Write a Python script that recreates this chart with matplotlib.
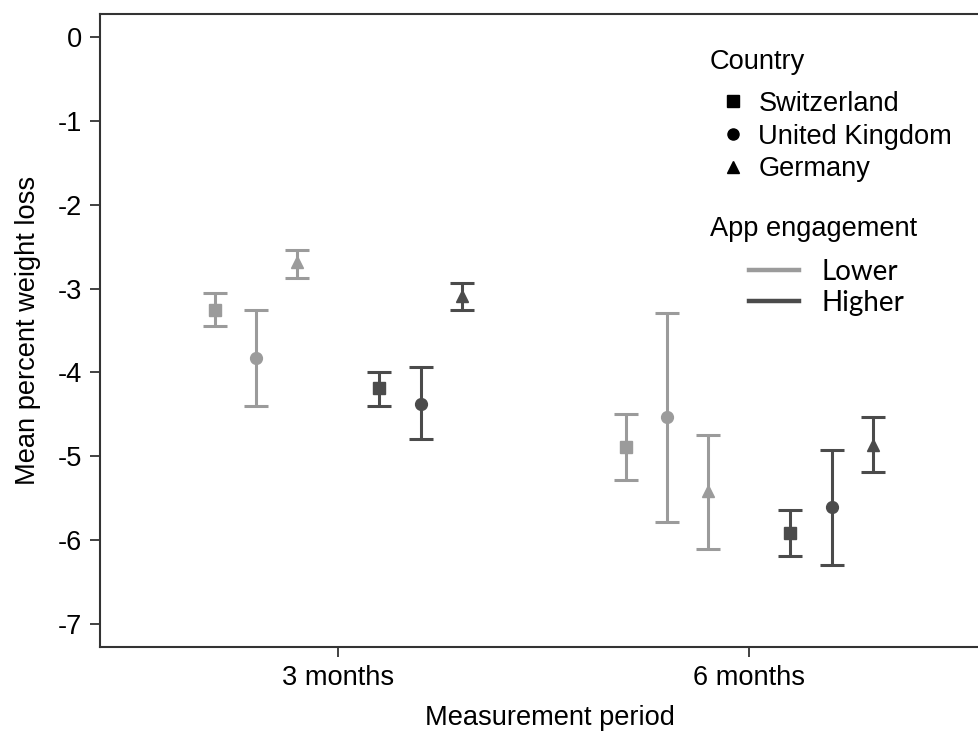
import matplotlib
matplotlib.use("Agg")
import matplotlib.pyplot as plt
from matplotlib.lines import Line2D
import numpy as np

periods = ["3 months", "6 months"]
countries = ["Switzerland", "United Kingdom", "Germany"]
markers = ["s", "o", "^"]

# mean, upper CI, lower CI for each period x country
lower_mean = [[-3.25, -3.83, -2.69], [-4.89, -4.53, -5.41]]
lower_hi = [[-3.05, -3.25, -2.54], [-4.50, -3.29, -4.74]]
lower_lo = [[-3.45, -4.40, -2.87], [-5.28, -5.78, -6.10]]

higher_mean = [[-4.19, -4.37, -3.09], [-5.91, -5.60, -4.86]]
higher_hi = [[-3.99, -3.94, -2.94], [-5.64, -4.92, -4.53]]
higher_lo = [[-4.40, -4.79, -3.25], [-6.19, -6.29, -5.19]]

light = "#9b9b9b"
dark = "#4b4b4b"
fs = 19.6

plt.rcParams["font.family"] = ["Liberation Sans", "DejaVu Sans"]

fig = plt.figure(figsize=(9.79, 7.33), dpi=100)
ax = fig.add_axes([100 / 979, 1 - 647 / 733, 900 / 979, (647 - 14) / 733])

groups = [
    (lower_mean, lower_hi, lower_lo, light, [-0.3, -0.2, -0.1]),
    (higher_mean, higher_hi, higher_lo, dark, [0.1, 0.2, 0.3]),
]
for mean, hi, lo, col, offs in groups:
    mean = np.array(mean)
    hi = np.array(hi)
    lo = np.array(lo)
    for j, mk in enumerate(markers):
        x = np.arange(len(periods)) + offs[j]
        yerr = [mean[:, j] - lo[:, j], hi[:, j] - mean[:, j]]
        ax.errorbar(x, mean[:, j], yerr=yerr, fmt=mk, color=col, ecolor=col,
                    elinewidth=2.2, capsize=8.5, capthick=2.2, markersize=8.5)

ax.set_xlim(-0.58, 1.61)
ax.set_ylim(-7.27, 0.27)
ax.set_xticks(range(len(periods)))
ax.set_xticklabels(periods)
ax.set_yticks(np.arange(0, -8, -1))
ax.set_yticklabels([str(v) for v in range(0, -8, -1)])
ax.tick_params(labelsize=fs, length=7, width=1.3, color="#333333", pad=6)

for s in ["left", "bottom", "top"]:
    ax.spines[s].set_linewidth(1.5)
    ax.spines[s].set_color("#333333")
ax.spines["right"].set_visible(False)

ax.set_xlabel("Measurement period", fontsize=fs, labelpad=10)
ax.set_ylabel("Mean percent weight loss", fontsize=fs, labelpad=12)

# country legend
fig.text(710 / 979, 1 - 62 / 733, "Country", fontsize=fs, va="center")
c_handles = [Line2D([], [], linestyle="none", marker=m, color="black", markersize=8)
             for m in markers]
fig.legend(c_handles, countries, loc="upper left",
           bbox_to_anchor=(710 / 979, 1 - 91 / 733), frameon=False,
           fontsize=fs, borderpad=0, borderaxespad=0, handlelength=1.68,
           handletextpad=0.1, labelspacing=0.24)

# engagement legend
fig.text(710 / 979, 1 - 229 / 733, "App engagement", fontsize=fs, va="center")
e_handles = [Line2D([], [], color=light, linewidth=3.2),
             Line2D([], [], color=dark, linewidth=3.2)]
fig.legend(e_handles, ["Lower", "Higher"], loc="upper left",
           bbox_to_anchor=(749 / 979, 1 - 259 / 733), frameon=False,
           prop={"family": "Lato", "size": 20}, borderpad=0, borderaxespad=0,
           handlelength=1.8, handletextpad=0.8, labelspacing=0.18)

fig.savefig("out.png", dpi=100)
